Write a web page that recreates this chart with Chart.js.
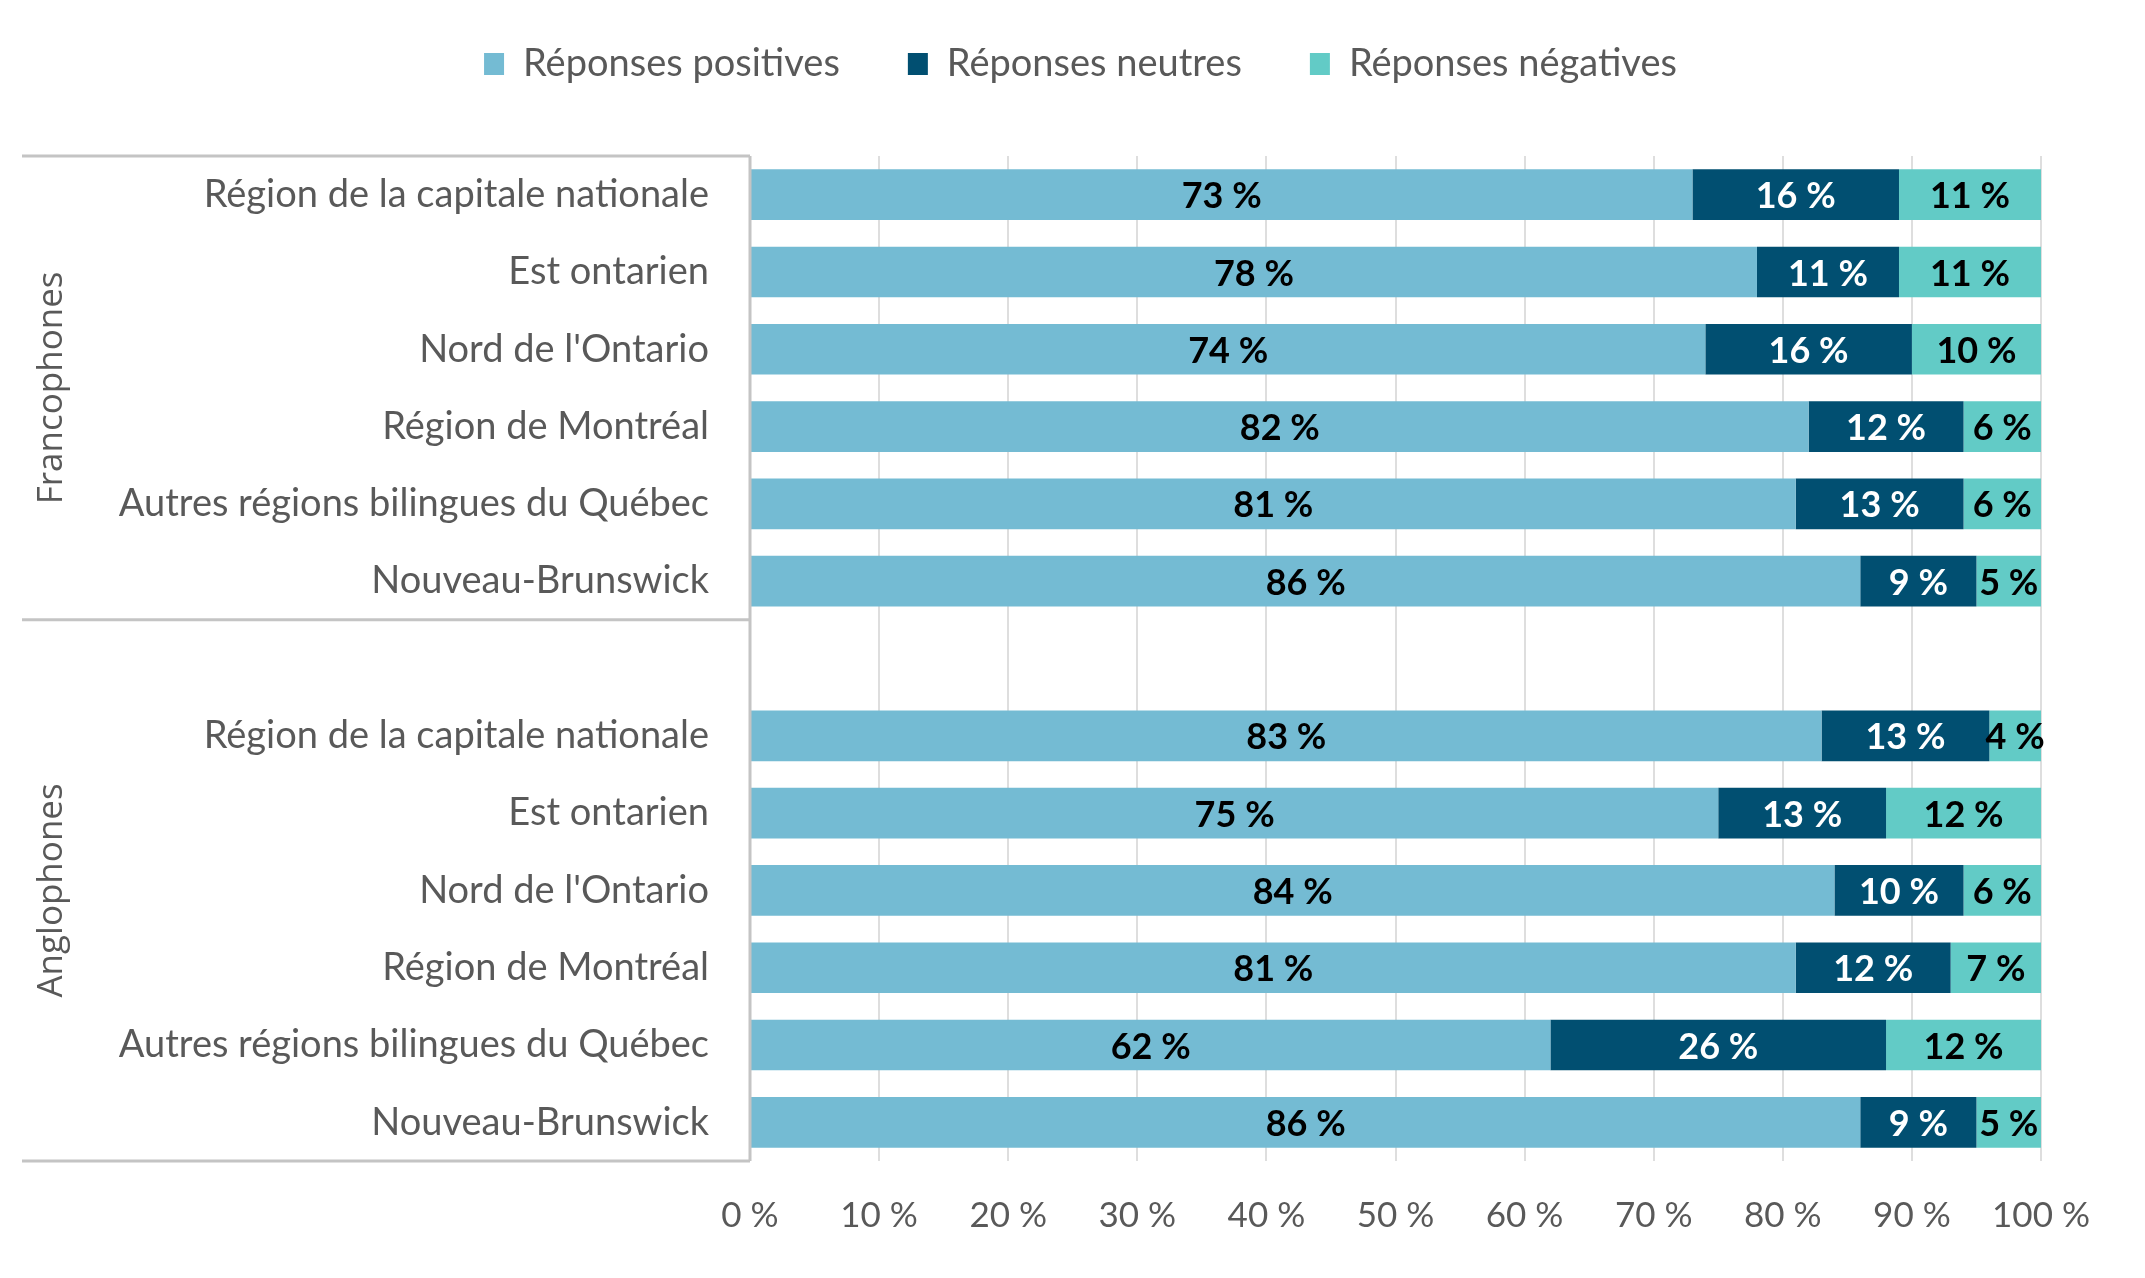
<!DOCTYPE html>
<html>
<head>
<meta charset="utf-8">
<script src="https://cdn.jsdelivr.net/npm/chart.js@4.4.1/dist/chart.umd.min.js"></script>
<style>
  html, body { margin: 0; padding: 0; background: #fff; }
</style>
</head>
<body>
<canvas id="chart" width="2145" height="1278"></canvas>
<script>
// categories (blank row separates the two groups)
const regions = [
  'Région de la capitale nationale', 'Est ontarien', "Nord de l'Ontario",
  'Région de Montréal', 'Autres régions bilingues du Québec', 'Nouveau-Brunswick',
  '',
  'Région de la capitale nationale', 'Est ontarien', "Nord de l'Ontario",
  'Région de Montréal', 'Autres régions bilingues du Québec', 'Nouveau-Brunswick'
];
const groups = ['Francophones', 'Anglophones'];
const groupSizes = [6, 7];

const positives = [73, 78, 74, 82, 81, 86, null, 83, 75, 84, 81, 62, 86];
const neutres   = [16, 11, 16, 12, 13, 9,  null, 13, 13, 10, 12, 26, 9];
const negatives = [11, 11, 10, 6,  6,  5,  null, 4,  12, 6,  7,  12, 5];

const seriesNames = ['Réponses positives', 'Réponses neutres', 'Réponses négatives'];
const seriesColors = ['#74BBD3', '#014F71', '#62CBC6'];
const labelColors = ['#000000', '#ffffff', '#000000'];

const xTicks = [0, 10, 20, 30, 40, 50, 60, 70, 80, 90, 100];

const grey = '#595959';

// legend box ends where the plot starts, row nudged right
const legendSpace = {
  id: 'legendSpace',
  beforeInit(chart) {
    const origFit = chart.legend.fit;
    chart.legend.fit = function () {
      origFit.bind(chart.legend)();
      this.height = 179;
    };
  },
  afterLayout(chart) {
    chart.legend.left += 60;
    chart.legend.right += 60;
  }
};

// value labels centred in every segment
const barLabels = {
  id: 'barLabels',
  afterDatasetsDraw(chart) {
    const ctx = chart.ctx;
    ctx.save();
    ctx.font = 'bold 36px Lato';
    ctx.textAlign = 'center';
    ctx.textBaseline = 'middle';
    chart.data.datasets.forEach((ds, i) => {
      const meta = chart.getDatasetMeta(i);
      meta.data.forEach((bar, j) => {
        const v = ds.data[j];
        if (v == null) return;
        ctx.fillStyle = labelColors[i];
        ctx.fillText(v + ' %', (bar.x + bar.base) / 2, bar.y + 2);
      });
    });
    ctx.restore();
  }
};

// multi-level category frame + group names
const groupFrame = {
  id: 'groupFrame',
  afterDraw(chart) {
    const ctx = chart.ctx;
    const y = chart.scales.y;
    const area = chart.chartArea;
    const step = y.getPixelForValue(1) - y.getPixelForValue(0);
    let bounds = [area.top];
    let idx = 0;
    groupSizes.forEach(n => {
      idx += n;
      bounds.push(y.getPixelForValue(idx - 1) + step / 2);
    });
    ctx.save();
    ctx.strokeStyle = '#c4c4c4';
    ctx.lineWidth = 3;
    bounds.forEach(b => {
      ctx.beginPath();
      ctx.moveTo(22, b);
      ctx.lineTo(area.left, b);
      ctx.stroke();
    });
    ctx.beginPath();
    ctx.moveTo(area.left, area.top);
    ctx.lineTo(area.left, area.bottom);
    ctx.stroke();

    ctx.fillStyle = grey;
    ctx.font = '35px "Open Sans"';
    ctx.textAlign = 'center';
    ctx.textBaseline = 'middle';
    groups.forEach((g, i) => {
      const cy = (bounds[i] + bounds[i + 1]) / 2;
      ctx.save();
      ctx.translate(52, cy);
      ctx.rotate(-Math.PI / 2);
      ctx.fillText(g, 0, 0);
      ctx.restore();
    });
    ctx.restore();
  }
};

const seriesData = [positives, neutres, negatives];

new Chart(document.getElementById('chart'), {
  type: 'bar',
  data: {
    labels: regions,
    datasets: seriesNames.map((name, i) => ({
      label: name,
      data: seriesData[i],
      backgroundColor: seriesColors[i],
      borderWidth: 0,
      categoryPercentage: 1,
      barPercentage: 0.655
    }))
  },
  options: {
    indexAxis: 'y',
    responsive: false,
    animation: false,
    devicePixelRatio: 1,
    layout: { padding: { left: 0, right: 104, top: -23, bottom: 0 } },
    scales: {
      x: {
        stacked: true,
        min: 0,
        max: 100,
        afterBuildTicks(scale) { scale.ticks = xTicks.map(v => ({ value: v })); },
        ticks: {
          callback: v => v + ' %',
          font: { family: 'Lato', size: 35 },
          color: grey,
          padding: 34
        },
        grid: { color: '#dedede', lineWidth: 2, drawTicks: false },
        border: { display: false },
        afterFit(scale) { scale.height = 117; }
      },
      y: {
        stacked: true,
        grid: { display: false, drawTicks: false },
        border: { display: false },
        ticks: {
          font: { family: 'Lato', size: 38 },
          color: grey,
          padding: 41,
          autoSkip: false
        },
        afterFit(scale) { scale.width = 750; }
      }
    },
    plugins: {
      legend: {
        position: 'top',
        labels: {
          boxWidth: 20,
          boxHeight: 22,
          padding: 68,
          color: grey,
          font: { family: 'Lato', size: 38 }
        }
      },
      tooltip: { enabled: false }
    }
  },
  plugins: [legendSpace, barLabels, groupFrame]
});
</script>
</body>
</html>
